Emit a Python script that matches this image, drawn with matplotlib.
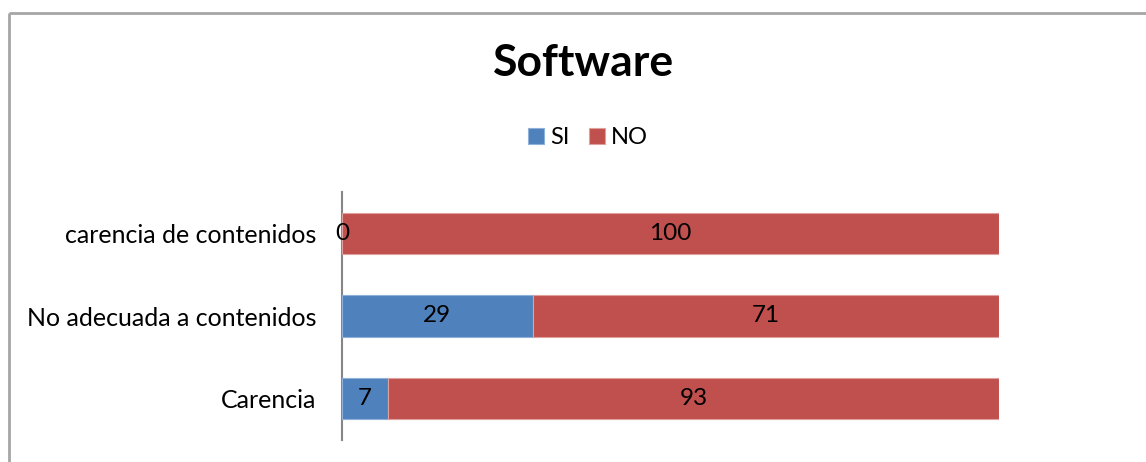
import matplotlib
matplotlib.use("Agg")
import matplotlib.pyplot as plt
from matplotlib.lines import Line2D
import numpy as np

categories = ["Carencia", "No adecuada a contenidos", "carencia de contenidos"]
si_values = [7, 29, 0]
no_values = [93, 71, 100]
series_names = ["SI", "NO"]
title = "Software"

plt.rcParams['font.family'] = ['Lato', 'DejaVu Sans']

W, H = 1146, 462
fig = plt.figure(figsize=(W / 100, H / 100), dpi=100)
fig.patch.set_facecolor("white")

# chart border (gray frame, top and left visible)
border_col = "#a6a6a6"
fig.add_artist(Line2D([9 / W, 9 / W], [1 - 13 / H, -0.1], transform=fig.transFigure,
                      color=border_col, lw=2, solid_capstyle="butt"))
fig.add_artist(Line2D([9 / W, 1.1], [1 - 13 / H, 1 - 13 / H], transform=fig.transFigure,
                      color=border_col, lw=2, solid_capstyle="butt"))

ax = fig.add_axes([342 / W, 22 / H, 657 / W, 248 / H])
y = np.arange(len(categories))
blue = "#4f81bd"
red = "#c0504d"
b1 = ax.barh(y, si_values, height=0.5, color=blue, edgecolor="#8fb0d8", linewidth=0.8, label=series_names[0])
b2 = ax.barh(y, no_values, left=si_values, height=0.5, color=red, edgecolor="#e0a09e", linewidth=0.8, label=series_names[1])

for bars in (b1, b2):
    ax.bar_label(bars, labels=[str(v) for v in bars.datavalues], label_type="center",
                 fontsize=17.5, color="black")

ax.set_xlim(0, 100)
ax.set_ylim(-0.5, 2.5)
ax.set_yticks(y)
ax.set_yticklabels(categories, fontsize=18)
ax.tick_params(axis="y", length=0, pad=18.5)
ax.set_xticks([])
for s in ("top", "right", "bottom"):
    ax.spines[s].set_visible(False)
ax.spines["left"].set_color("#868686")
ax.spines["left"].set_linewidth(1.5)
ax.spines["left"].set_zorder(0)

fig.text(583 / W, 1 - 63 / H, title, ha="center", va="center", fontsize=32, fontweight="bold")

fig.legend(handles=[b1, b2], labels=series_names, loc="center", bbox_to_anchor=(588 / W, 1 - 138 / H),
           ncol=2, frameon=False, fontsize=17, handlelength=0.7, handleheight=0.65,
           handletextpad=0.25, columnspacing=0.8)

fig.savefig("out.png", dpi=100, facecolor="white")
